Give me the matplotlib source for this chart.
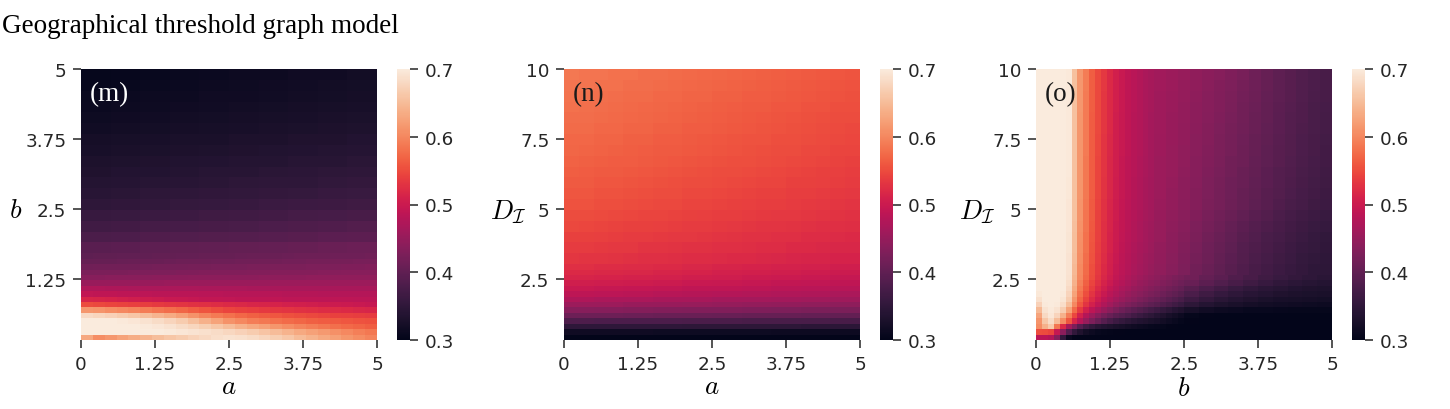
import numpy as np
import matplotlib
matplotlib.use("Agg")
import matplotlib.pyplot as plt
from matplotlib.colors import Normalize
from matplotlib.cm import ScalarMappable
import seaborn as sns

plt.rcParams['mathtext.fontset'] = 'cm'
plt.rcParams['font.family'] = ['DejaVu Sans']

# ---------------- data (values in units of 0.001) ----------------
title = "Geographical threshold graph model"
panel_tags = ["(m)", "(n)", "(o)"]
cbar_ticks = [0.3, 0.4, 0.5, 0.6, 0.7]
x_ticks = [0, 1.25, 2.5, 3.75, 5]
x_ticklabels = ["0", "1.25", "2.5", "3.75", "5"]
m_yticks = [1.25, 2.5, 3.75, 5]
m_yticklabels = ["1.25", "2.5", "3.75", "5"]
d_yticks = [2.5, 5, 7.5, 10]
d_yticklabels = ["2.5", "5", "7.5", "10"]

# parameter ranges of the grids
a_range = (0.0, 5.0)
b_range_m = (0.16, 5.0)
D_range = (0.32, 10.0)

# (m): rows of b from bottom, columns of a (25 columns), fine rows near small b
m_low = [
    [630,605,615,625,635,643,652,660,667,674,680,686,690,688,684,678,670,661,651,641,632,623,614,606,598],
    [700,700,700,700,700,700,699,697,695,692,688,684,679,673,666,658,650,641,632,624,616,608,600,593,587],
    [700,700,700,700,699,697,694,690,684,677,669,660,650,640,631,622,614,606,598,591,585,579,574,569,565],
    [700,700,699,697,694,690,684,676,666,654,640,625,610,600,592,586,580,575,571,567,564,561,558,556,554],
    [682,678,673,667,660,652,643,633,622,610,598,588,580,573,567,562,558,554,551,548,545,542,540,538,536],
    [615,611,606,601,596,590,584,578,571,564,557,551,545,541,538,535,532,530,528,525,523,521,519,517,515],
    [550,548,545,543,540,538,535,532,530,527,525,522,520,518,515,513,511,509,507,505,503,501,499,497,495],
    [515,513,511,509,506,503,500,498,496,494,492,491,490,489,489,488,488,487,487,487,486,486,486,485,485],
    [490,489,488,487,486,485,484,484,483,483,482,482,481,481,480,480,480,479,479,479,478,478,478,478,478],
    [472,472,471,471,470,470,470,469,469,469,468,468,468,468,467,467,467,467,467,466,466,466,466,466,466],
    [453,453,453,453,453,453,453,454,454,454,454,454,454,454,454,454,455,455,455,455,455,455,455,455,455],
    [437,437,438,438,439,439,440,440,440,441,441,441,442,442,442,443,443,443,443,444,444,444,445,445,445],
    [425,425,426,426,427,427,428,428,429,429,430,430,431,431,432,432,433,433,434,434,435,435,436,436,437],
    [415,416,416,417,417,418,419,419,420,421,421,422,422,423,424,424,425,426,426,427,428,428,429,429,430],
    [405,406,406,407,408,409,409,410,411,412,412,413,414,415,415,416,417,418,418,419,420,421,421,422,423],
    [398,399,399,400,401,401,402,403,404,404,405,406,406,407,408,409,409,410,411,411,412,413,414,414,415],
]
m_low_b_top = 1.709
m_up = [
    [393,395,397,399,401,402,404,406,408,410],
    [379,381,383,385,387,388,390,392,394,396],
    [368,370,372,374,376,378,380,382,384,386],
    [358,360,362,364,366,368,370,372,374,376],
    [349,351,353,355,357,359,361,363,365,367],
    [343,345,347,349,351,352,354,356,358,360],
    [338,340,342,343,345,347,349,350,352,354],
    [334,336,337,339,341,342,344,346,347,349],
    [330,332,333,335,336,338,339,341,342,344],
    [326,328,329,331,332,334,335,337,338,340],
    [322,324,325,327,328,330,331,333,334,336],
    [318,320,321,323,324,326,327,329,330,332],
    [315,317,318,320,321,323,324,326,327,329],
    [312,314,315,317,318,320,321,323,324,326],
    [310,311,313,314,316,317,318,320,321,323],
    [307,309,310,312,313,315,316,318,319,321],
    [305,307,308,310,311,313,314,316,317,319],
]

# (n): rows of D_I from bottom, columns of a
n_low = [
    [300,300,300,300,300,300,300,300,300,300],
    [316,316,316,315,315,315,315,314,314,314],
    [350,350,349,349,348,348,347,347,346,346],
    [382,381,380,380,379,379,378,377,377,376],
    [412,411,410,409,408,407,406,405,404,403],
    [436,435,434,432,431,430,429,428,426,425],
    [456,455,453,452,450,449,448,446,445,443],
    [472,470,469,467,466,464,463,461,460,458],
    [486,485,483,481,479,478,476,474,472,470],
    [497,495,493,491,489,488,486,484,482,480],
    [506,504,502,500,498,496,494,492,490,488],
    [514,512,510,508,506,504,501,499,497,495],
    [520,518,516,514,512,509,507,505,503,501],
    [525,523,521,519,517,514,512,510,508,506],
]
n_low_D_top = 3.03
n_up = [
    [532,531,530,529,528,526,525,524,523,522,521,520,519,518,517,515,514,513,512,511],
    [537,536,535,534,533,531,530,529,528,527,526,525,524,523,522,520,519,518,517,516],
    [542,541,540,539,537,536,535,534,533,532,530,529,528,527,526,525,523,522,521,520],
    [547,546,545,543,542,541,540,539,537,536,535,534,532,531,530,529,528,526,525,524],
    [551,550,549,547,546,545,544,543,541,540,539,538,536,535,534,533,532,530,529,528],
    [556,555,553,552,551,549,548,547,545,544,543,541,540,539,538,536,535,534,532,531],
    [559,558,556,555,554,552,551,550,548,547,546,544,543,542,541,539,538,537,535,534],
    [562,561,559,558,557,555,554,553,551,550,549,547,546,545,544,542,541,540,538,537],
    [565,564,562,561,560,558,557,555,554,553,551,550,549,547,546,544,543,542,540,539],
    [568,567,565,564,563,561,560,558,557,556,554,553,552,550,549,547,546,545,543,542],
    [571,570,568,567,565,564,562,561,560,558,557,555,554,553,551,550,548,547,545,544],
    [573,572,570,569,567,566,564,563,562,560,559,557,556,555,553,552,550,549,547,546],
    [576,575,573,572,570,569,567,566,564,563,561,560,558,557,555,554,552,551,549,548],
    [578,577,575,574,572,571,569,568,566,565,563,562,560,559,557,556,554,553,551,550],
    [580,579,577,576,574,573,571,570,568,567,565,564,562,561,559,558,556,555,553,552],
    [582,581,579,578,576,575,573,572,570,569,567,566,564,563,561,560,558,557,555,554],
    [584,583,581,580,578,577,575,574,572,571,569,568,566,565,563,562,560,559,557,556],
    [586,584,583,581,580,578,577,575,574,572,571,569,568,566,565,563,562,560,559,557],
]

# (o): rows of D_I from bottom; columns of b: 25 of width 0.1 up to b=2.5, then 10 of width 0.25
o_low = [
    [485,485,478,435,352,312,303,301,300,300,300,300,300,300,300,300,300,300,300,300,300,300,300,300,300, 300,300,300,300,300,300,300,300,300,300],
    [552,550,545,495,440,385,352,333,320,313,309,306,304,303,302,301,301,300,300,300,300,300,300,300,300, 300,300,300,300,300,300,300,300,300,300],
    [605,640,665,585,520,465,425,390,367,352,342,336,332,328,324,320,317,314,311,309,307,305,303,302,301, 300,300,300,300,300,300,300,300,300,300],
    [612,662,684,650,605,558,515,480,450,427,408,390,375,363,355,348,342,337,333,329,325,320,315,310,306, 302,300,300,300,300,300,300,300,300,300],
    [628,680,695,676,640,592,546,508,478,455,437,421,407,396,388,380,370,362,354,347,340,333,326,319,313, 305,302,300,300,300,300,300,300,300,300],
    [648,690,698,690,668,625,575,537,508,486,468,452,438,425,414,404,395,387,379,371,363,355,347,340,333, 324,318,314,311,309,308,307,306,306,305],
    [672,698,700,697,685,652,600,558,530,508,490,474,460,448,437,428,420,412,405,398,391,384,376,368,360, 348,339,332,327,323,320,318,316,315,314],
    [688,700,700,699,693,668,615,571,543,521,503,487,474,462,452,443,435,428,421,414,407,400,393,385,378, 365,354,345,338,333,329,326,324,322,321],
    [696,700,700,700,697,676,625,580,552,530,512,497,484,472,462,453,445,438,432,426,420,413,406,399,392, 379,367,357,349,343,338,334,331,329,327],
    [700,700,700,700,699,682,633,588,560,538,520,505,492,480,470,461,453,446,440,434,428,422,416,410,404, 392,380,369,360,352,346,341,337,334,332],
    [700,700,700,700,700,686,640,595,567,545,527,512,499,487,477,468,460,453,447,441,436,431,426,420,414, 407,396,385,375,366,358,351,346,342,338],
    [700,700,700,700,700,690,645,600,573,550,532,517,504,492,482,473,465,458,452,446,441,436,431,426,421, 415,404,394,384,375,367,360,354,349,344],
]
o_low_D_top = 2.643
o_low_b_split = 2.5
# upper part: 20 columns of width 0.1 up to b=2.0, then 15 of width 0.2
o_up = [
    [700,700,700,700,700,691,648,603,576,553,535,520,507,495,485,477,469,463,457,451, 445,436,427,417,408,399,391,383,376,369,363,358,354,350,347],
    [700,700,700,700,700,692,650,605,578,555,537,522,509,497,487,479,471,465,459,454, 446,438,429,420,411,402,394,386,379,372,366,361,356,352,349],
    [700,700,700,700,700,693,652,607,580,557,539,524,511,499,489,481,473,467,461,456, 448,440,431,422,414,405,397,389,382,375,369,364,359,355,351],
    [700,700,700,700,700,693,653,608,581,558,540,525,512,500,490,482,475,469,463,457, 450,442,434,425,417,408,400,392,385,378,372,367,362,357,353],
    [700,700,700,700,700,694,654,610,583,560,541,526,513,501,491,483,476,470,464,458, 451,443,436,428,420,412,404,396,389,382,376,370,365,360,357],
    [700,700,700,700,700,694,655,611,584,561,542,527,514,502,492,484,477,471,465,460, 453,445,438,430,423,415,408,400,393,386,379,373,368,363,360],
    [700,700,700,700,700,695,655,612,585,562,543,528,515,503,493,485,478,472,466,461, 454,447,440,433,426,419,412,405,398,391,384,378,372,367,363],
    [700,700,700,700,700,696,655,613,586,563,544,529,516,504,494,486,479,473,467,462, 455,448,441,434,427,420,413,406,399,392,386,380,374,369,365],
    [700,700,700,700,700,696,655,613,586,563,544,529,516,504,494,486,479,473,467,462, 455,449,442,435,428,421,414,408,401,394,388,382,376,371,367],
    [700,700,700,700,700,697,655,613,587,563,545,530,517,505,495,487,480,474,468,463, 456,450,443,436,429,423,416,409,402,395,389,383,378,372,368],
    [700,700,700,700,700,697,655,613,587,563,545,530,517,505,495,487,480,474,468,463, 456,451,444,437,430,424,417,411,404,397,391,385,379,374,369],
    [700,700,700,700,700,697,655,614,588,564,546,531,518,506,496,488,481,475,469,464, 457,451,445,438,432,425,419,412,405,398,392,386,380,375,370],
    [700,700,700,700,700,697,655,614,588,564,546,531,518,506,496,488,481,475,469,464, 457,452,446,439,433,426,420,413,406,399,393,387,381,376,371],
    [700,700,700,700,700,698,655,614,589,564,547,532,519,506,496,488,481,475,469,464, 458,452,446,440,434,428,421,415,408,401,394,388,382,377,372],
    [700,700,700,700,700,698,655,614,589,564,547,532,519,506,496,488,481,475,469,464, 458,453,447,441,435,429,422,416,409,402,395,389,383,378,373],
    [700,700,700,700,700,698,655,615,589,565,547,532,519,507,497,489,482,476,470,465, 459,454,448,442,436,430,424,417,410,403,396,390,384,378,374],
    [700,700,700,700,700,698,655,615,589,565,547,532,519,507,497,489,482,476,470,465, 459,454,449,443,437,431,425,418,411,404,397,391,385,379,375],
    [700,700,700,700,700,698,655,615,590,565,548,533,520,507,497,489,482,476,470,465, 460,455,449,444,438,432,427,420,413,405,398,391,385,380,375],
    [700,700,700,700,700,698,655,615,590,565,548,533,520,507,497,489,482,476,470,465, 460,455,450,445,440,435,429,422,414,406,398,391,385,380,376],
]
o_up_b_split = 2.0

# ---------------- drawing ----------------
W, H = 1450, 410
fig = plt.figure(figsize=(W / 100, H / 100), dpi=100)
cmap = sns.color_palette("rocket", as_cmap=True)
norm = Normalize(vmin=0.3, vmax=0.7)
TXT = "#262626"


def px_axes(x0, y0, x1, y1):
    return fig.add_axes([x0 / W, 1 - y1 / H, (x1 - x0) / W, (y1 - y0) / H])


def edges(lo, hi, n):
    return np.linspace(lo, hi, n + 1)


def panel(hx, cx, blocks, ylim, yticks, yticklabels, xlabel, ylabel,
          ylab_xy, xlab_y, tag, tag_color):
    ax = px_axes(hx, 70, hx + 296, 341)
    for xe, ye, Z in blocks:
        ax.pcolormesh(xe, ye, np.asarray(Z, dtype=float) / 1000.0, cmap=cmap,
                      norm=norm, shading='flat', antialiased=False, linewidth=0)
    ax.set_xlim(*a_range)
    ax.set_ylim(*ylim)
    ax.set_xticks(x_ticks)
    ax.set_xticklabels(x_ticklabels)
    ax.set_yticks(yticks)
    ax.set_yticklabels(yticklabels)
    for s in ax.spines.values():
        s.set_visible(False)
    ax.tick_params(length=6, width=1.1, color=TXT, labelsize=13.2,
                   labelcolor=TXT, pad=4.5)
    ax.set_xlabel(xlabel, fontsize=19.5, color='black')
    ax.xaxis.set_label_coords(0.5, xlab_y)
    ax.xaxis.label.set_va('center')
    ax.set_ylabel(ylabel, fontsize=19.5, rotation=0, color='black')
    ax.yaxis.set_label_coords(*ylab_xy)
    ax.yaxis.label.set_va('center')
    ax.yaxis.label.set_ha('center')
    ax.text(0.03, 0.955, tag, transform=ax.transAxes, ha='left', va='top',
            fontsize=19.5, family='Liberation Serif', color=tag_color)
    cax = px_axes(cx, 70, cx + 13, 341)
    cb = fig.colorbar(ScalarMappable(norm=norm, cmap=cmap), cax=cax,
                      ticks=cbar_ticks)
    cb.outline.set_visible(False)
    cb.ax.tick_params(length=6, width=1.1, color=TXT, labelsize=13.2,
                      labelcolor=TXT, pad=4.5)
    return ax


# (m)
m_blocks = [
    (edges(*a_range, 25), edges(b_range_m[0], m_low_b_top, len(m_low)), m_low),
    (edges(*a_range, 10), edges(m_low_b_top, b_range_m[1], len(m_up)), m_up),
]
panel(81, 397, m_blocks, b_range_m, m_yticks, m_yticklabels, r'$a$', r'$b$',
      (-0.22, 0.48), -0.17, panel_tags[0], 'white')

# (n)
n_blocks = [
    (edges(*a_range, 10), edges(D_range[0], n_low_D_top, len(n_low)), n_low),
    (edges(*a_range, 20), edges(n_low_D_top, D_range[1], len(n_up)), n_up),
]
panel(564, 880, n_blocks, D_range, d_yticks, d_yticklabels, r'$a$',
      r'$D_{\mathcal{I}}$', (-0.1875, 0.476), -0.17, panel_tags[1], '#1a1a1a')

# (o)
o_low_x = np.r_[edges(0, o_low_b_split, 25), edges(o_low_b_split, 5, 10)[1:]]
o_up_x = np.r_[edges(0, o_up_b_split, 20), edges(o_up_b_split, 5, 15)[1:]]
o_blocks = [
    (o_low_x, edges(D_range[0], o_low_D_top, len(o_low)), o_low),
    (o_up_x, edges(o_low_D_top, D_range[1], len(o_up)), o_up),
]
panel(1036, 1352, o_blocks, D_range, d_yticks, d_yticklabels, r'$b$',
      r'$D_{\mathcal{I}}$', (-0.199, 0.476), -0.177, panel_tags[2], '#1a1a1a')

fig.text(2 / W, 1 - 33 / H, title, ha='left', va='baseline', fontsize=19.5,
         family='Liberation Serif', color='black')

fig.savefig("out.png", dpi=100)
